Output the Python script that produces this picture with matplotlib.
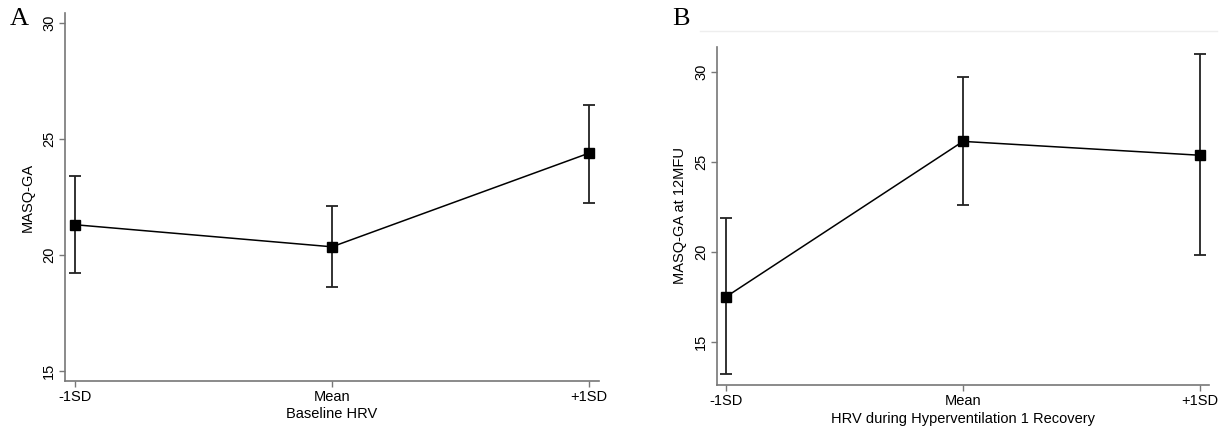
import matplotlib
matplotlib.use("Agg")
import matplotlib.pyplot as plt
from matplotlib.lines import Line2D

plt.rcParams['font.family'] = ['Liberation Sans', 'DejaVu Sans']

levels = ["-1SD", "Mean", "+1SD"]
level_pos = [-1, 0, 1]

# panel A: baseline HRV
a_mean = [21.3, 20.35, 24.38]
a_low = [19.22, 18.6, 22.25]
a_high = [23.38, 22.12, 26.45]

# panel B: HRV during hyperventilation 1 recovery
b_mean = [17.52, 26.15, 25.38]
b_low = [13.2, 22.62, 19.82]
b_high = [21.9, 29.72, 31.03]

W, H = 1222, 428
fig = plt.figure(figsize=(W / 100, H / 100), dpi=100)


def panel(rect, mean, low, high, yticks, ylim, xlabel, ylabel):
    ax = fig.add_axes(rect)
    err = [[m - l for m, l in zip(mean, low)], [h - m for m, h in zip(mean, high)]]
    ax.errorbar(level_pos, mean, yerr=err, color="black", ecolor="#222222",
                elinewidth=1.3, capsize=4, capthick=1.3, lw=1.1,
                marker="s", markersize=7.5, markerfacecolor="black")
    ax.set_xlim(-1.04, 1.04)
    ax.set_ylim(*ylim)
    ax.set_xticks(level_pos)
    ax.set_xticklabels(levels)
    ax.set_yticks(yticks)
    ax.set_yticklabels([str(t) for t in yticks], rotation=90, va="center")
    for s in ["top", "right"]:
        ax.spines[s].set_visible(False)
    for s in ["left", "bottom"]:
        ax.spines[s].set_color("#777777")
        ax.spines[s].set_linewidth(1.2)
    ax.tick_params(length=4, width=1, color="#777777", labelsize=10.5, pad=2.5)
    ax.set_xlabel(xlabel, fontsize=10.5, labelpad=2.5)
    ax.set_ylabel(ylabel, fontsize=10.5, labelpad=5)
    return ax


panel([65 / W, 1 - 381 / H, 534 / W, 368 / H], a_mean, a_low, a_high,
      [15, 20, 25, 30], (14.57, 30.42), "Baseline HRV", "MASQ-GA")
panel([717 / W, 1 - 385 / H, 492 / W, 338 / H], b_mean, b_low, b_high,
      [15, 20, 25, 30], (12.6, 31.4), "HRV during Hyperventilation 1 Recovery",
      "MASQ-GA at 12MFU")

fig.text(10 / W, 1 - 19 / H, "A", fontsize=19, family="Liberation Serif", va="center")
fig.text(672 / W, 1 - 19 / H, "B", fontsize=19, family="Liberation Serif", va="center")
fig.add_artist(Line2D([700 / W, 1217 / W], [1 - 31 / H, 1 - 31 / H],
                      color="#eeeeee", lw=1))

fig.savefig("out.png", dpi=100)
